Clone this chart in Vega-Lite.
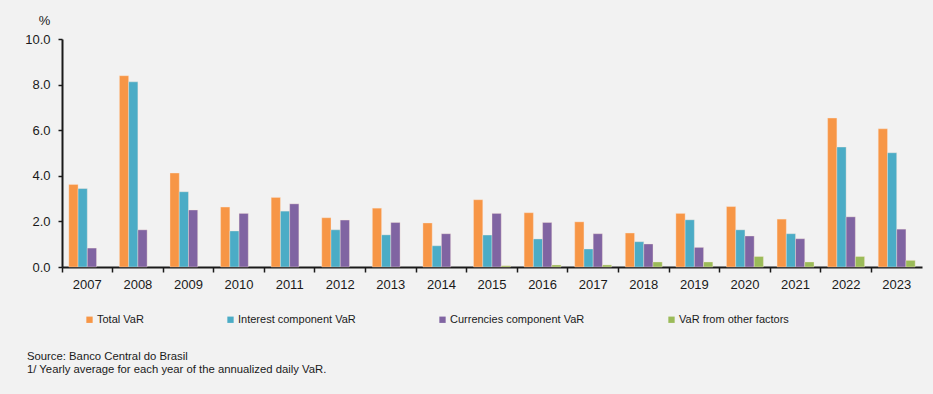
{
  "$schema": "https://vega.github.io/schema/vega-lite/v6.json",
  "width": 860,
  "height": 228,
  "autosize": {"type": "none"},
  "padding": {"left": 62, "top": 39, "right": 11, "bottom": 127},
  "background": "#F2F2F2",
  "config": {
    "view": {"stroke": null},
    "font": "Liberation Sans"
  },
  "title": {
    "text": ["Source: Banco Central do Brasil", "1/ Yearly average for each year of the annualized daily VaR."],
    "orient": "bottom",
    "anchor": "start",
    "frame": "group",
    "dx": -35,
    "offset": 26,
    "font": "Liberation Sans",
    "fontSize": 11.3,
    "fontWeight": "normal",
    "color": "#1a1a1a",
    "lineHeight": 13
  },
  "data": {
    "values": [
      {"year": "2007", "series": "Total VaR", "value": 3.62},
      {"year": "2007", "series": "Interest component VaR", "value": 3.44},
      {"year": "2007", "series": "Currencies component VaR", "value": 0.83},
      {"year": "2008", "series": "Total VaR", "value": 8.39},
      {"year": "2008", "series": "Interest component VaR", "value": 8.12},
      {"year": "2008", "series": "Currencies component VaR", "value": 1.63},
      {"year": "2009", "series": "Total VaR", "value": 4.12},
      {"year": "2009", "series": "Interest component VaR", "value": 3.30},
      {"year": "2009", "series": "Currencies component VaR", "value": 2.50},
      {"year": "2010", "series": "Total VaR", "value": 2.63},
      {"year": "2010", "series": "Interest component VaR", "value": 1.58},
      {"year": "2010", "series": "Currencies component VaR", "value": 2.35},
      {"year": "2011", "series": "Total VaR", "value": 3.05},
      {"year": "2011", "series": "Interest component VaR", "value": 2.45},
      {"year": "2011", "series": "Currencies component VaR", "value": 2.77},
      {"year": "2012", "series": "Total VaR", "value": 2.16},
      {"year": "2012", "series": "Interest component VaR", "value": 1.63},
      {"year": "2012", "series": "Currencies component VaR", "value": 2.06},
      {"year": "2013", "series": "Total VaR", "value": 2.58},
      {"year": "2013", "series": "Interest component VaR", "value": 1.41},
      {"year": "2013", "series": "Currencies component VaR", "value": 1.95},
      {"year": "2014", "series": "Total VaR", "value": 1.93},
      {"year": "2014", "series": "Interest component VaR", "value": 0.93},
      {"year": "2014", "series": "Currencies component VaR", "value": 1.46},
      {"year": "2015", "series": "Total VaR", "value": 2.95},
      {"year": "2015", "series": "Interest component VaR", "value": 1.40},
      {"year": "2015", "series": "Currencies component VaR", "value": 2.35},
      {"year": "2015", "series": "VaR from other factors", "value": 0.06},
      {"year": "2016", "series": "Total VaR", "value": 2.38},
      {"year": "2016", "series": "Interest component VaR", "value": 1.23},
      {"year": "2016", "series": "Currencies component VaR", "value": 1.95},
      {"year": "2016", "series": "VaR from other factors", "value": 0.09},
      {"year": "2017", "series": "Total VaR", "value": 1.98},
      {"year": "2017", "series": "Interest component VaR", "value": 0.79},
      {"year": "2017", "series": "Currencies component VaR", "value": 1.46},
      {"year": "2017", "series": "VaR from other factors", "value": 0.09},
      {"year": "2018", "series": "Total VaR", "value": 1.49},
      {"year": "2018", "series": "Interest component VaR", "value": 1.11},
      {"year": "2018", "series": "Currencies component VaR", "value": 1.01},
      {"year": "2018", "series": "VaR from other factors", "value": 0.22},
      {"year": "2019", "series": "Total VaR", "value": 2.35},
      {"year": "2019", "series": "Interest component VaR", "value": 2.07},
      {"year": "2019", "series": "Currencies component VaR", "value": 0.86},
      {"year": "2019", "series": "VaR from other factors", "value": 0.22},
      {"year": "2020", "series": "Total VaR", "value": 2.65},
      {"year": "2020", "series": "Interest component VaR", "value": 1.63},
      {"year": "2020", "series": "Currencies component VaR", "value": 1.36},
      {"year": "2020", "series": "VaR from other factors", "value": 0.46},
      {"year": "2021", "series": "Total VaR", "value": 2.10},
      {"year": "2021", "series": "Interest component VaR", "value": 1.46},
      {"year": "2021", "series": "Currencies component VaR", "value": 1.24},
      {"year": "2021", "series": "VaR from other factors", "value": 0.22},
      {"year": "2022", "series": "Total VaR", "value": 6.53},
      {"year": "2022", "series": "Interest component VaR", "value": 5.26},
      {"year": "2022", "series": "Currencies component VaR", "value": 2.20},
      {"year": "2022", "series": "VaR from other factors", "value": 0.46},
      {"year": "2023", "series": "Total VaR", "value": 6.06},
      {"year": "2023", "series": "Interest component VaR", "value": 5.01},
      {"year": "2023", "series": "Currencies component VaR", "value": 1.66},
      {"year": "2023", "series": "VaR from other factors", "value": 0.29}
    ]
  },
  "mark": {"type": "bar", "stroke": "#FBE9DA", "strokeWidth": 0.6, "strokeOpacity": 0.6},
  "encoding": {
    "x": {
      "field": "year",
      "type": "nominal",
      "scale": {"paddingInner": 0, "paddingOuter": 0},
      "axis": {
        "title": null,
        "labelAngle": 0,
        "bandPosition": 0,
        "labelFontSize": 13,
        "labelColor": "#1a1a1a",
        "labelPadding": 6,
        "tickSize": 5,
        "tickColor": "#1a1a1a",
        "tickWidth": 1.5,
        "domainColor": "#1a1a1a",
        "domainWidth": 2
      }
    },
    "xOffset": {
      "field": "series",
      "type": "nominal",
      "sort": ["Total VaR", "Interest component VaR", "Currencies component VaR", "VaR from other factors"],
      "scale": {"domain": ["Total VaR", "Interest component VaR", "Currencies component VaR", "VaR from other factors"], "paddingInner": 0, "paddingOuter": 0.74}
    },
    "y": {
      "field": "value",
      "type": "quantitative",
      "scale": {"domain": [0, 10]},
      "axis": {
        "title": "%",
        "titleAngle": 0,
        "titleX": -18,
        "titleY": -12,
        "titleAlign": "center",
        "titleBaseline": "bottom",
        "titleFontSize": 13,
        "titleFontWeight": "normal",
        "titleColor": "#1a1a1a",
        "values": [0, 2, 4, 6, 8, 10],
        "format": ".1f",
        "grid": false,
        "labelFontSize": 13,
        "labelColor": "#1a1a1a",
        "labelPadding": 8,
        "tickSize": 4,
        "tickColor": "#1a1a1a",
        "tickWidth": 1.5,
        "domainColor": "#1a1a1a",
        "domainWidth": 2
      }
    },
    "color": {
      "field": "series",
      "type": "nominal",
      "sort": ["Total VaR", "Interest component VaR", "Currencies component VaR", "VaR from other factors"],
      "scale": {
        "domain": ["Total VaR", "Interest component VaR", "Currencies component VaR", "VaR from other factors"],
        "range": ["#F79646", "#4BACC6", "#8064A2", "#9BBB59"]
      },
      "legend": {
        "title": null,
        "orient": "none",
        "direction": "horizontal",
        "legendX": 22,
        "legendY": 275,
        "columns": 4,
        "columnPadding": 81,
        "symbolType": "square",
        "symbolSize": 40,
        "symbolStrokeWidth": 0,
        "symbolOffset": 0,
        "labelOffset": 2,
        "labelFont": "Liberation Sans",
        "labelFontSize": 11,
        "labelColor": "#1a1a1a"
      }
    }
  }
}
